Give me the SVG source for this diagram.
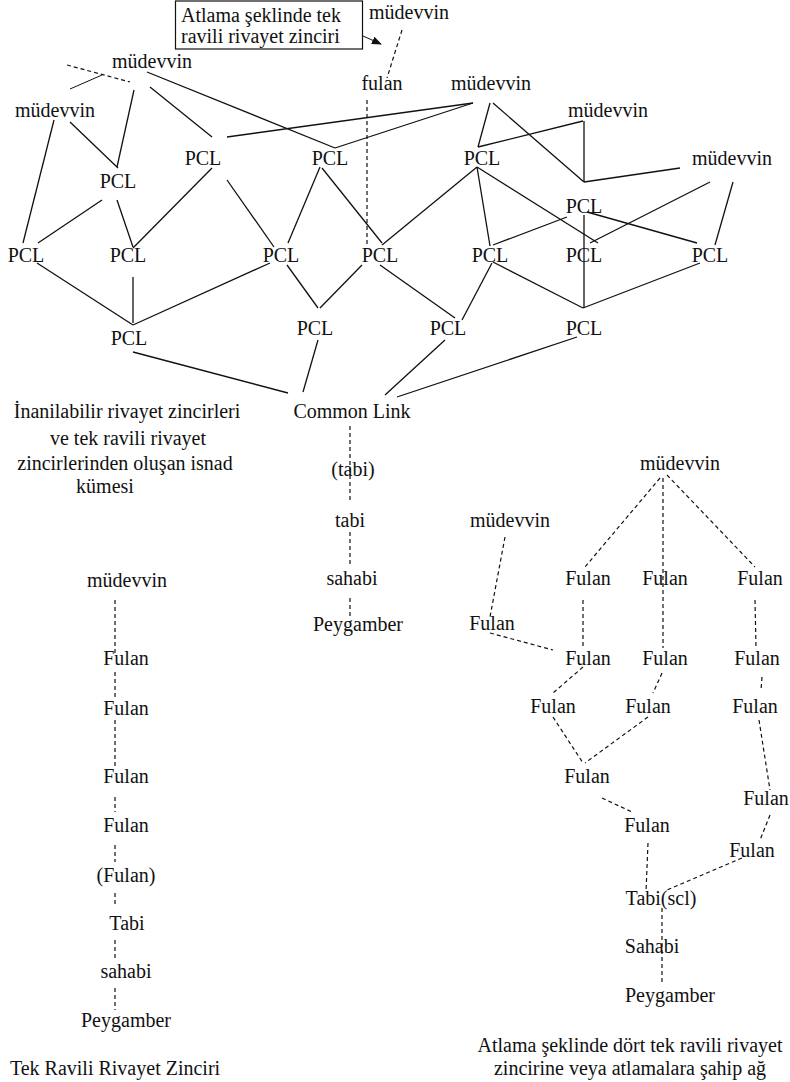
<svg xmlns="http://www.w3.org/2000/svg" width="790" height="1082" viewBox="0 0 790 1082" font-family="Liberation Serif, DejaVu Serif, serif">
<style>
text{font-family:'Liberation Serif','DejaVu Serif',serif;font-size:20px;fill:#111;text-anchor:middle}
.s{text-anchor:start}
.c line{stroke:#111;stroke-width:1.3;fill:none}
.c .d{stroke-dasharray:4 3;stroke-width:1.2}
</style>
<defs>
<marker id="ah" markerWidth="10" markerHeight="8" refX="9" refY="4" orient="auto" markerUnits="userSpaceOnUse">
<path d="M0,0 L10,4 L0,8 Z" fill="#111"/>
</marker>
</defs>
<rect width="790" height="1082" fill="#fff"/>
<g class="c" id="connectors">
<line x1="134" y1="90" x2="117" y2="167"/>
<line x1="54" y1="120" x2="23" y2="243"/>
<line x1="70" y1="122" x2="118" y2="168"/>
<line x1="150" y1="87" x2="212" y2="137"/>
<line x1="147" y1="72" x2="335" y2="148"/>
<line x1="227" y1="137" x2="473" y2="103"/>
<line x1="335" y1="148" x2="473" y2="103"/>
<line x1="102" y1="200" x2="38" y2="243"/>
<line x1="117" y1="200" x2="133" y2="247"/>
<line x1="212" y1="168" x2="133" y2="248"/>
<line x1="227" y1="180" x2="274" y2="247"/>
<line x1="320" y1="167" x2="288" y2="243"/>
<line x1="322" y1="168" x2="382" y2="243"/>
<line x1="490" y1="103" x2="478" y2="147"/>
<line x1="493" y1="103" x2="584" y2="182"/>
<line x1="584" y1="182" x2="680" y2="168"/>
<line x1="584" y1="121" x2="584" y2="182"/>
<line x1="583" y1="121" x2="478" y2="147"/>
<line x1="477" y1="167" x2="382" y2="245"/>
<line x1="477" y1="167" x2="490" y2="246"/>
<line x1="477" y1="167" x2="598" y2="243"/>
<line x1="584" y1="215" x2="584" y2="308"/>
<line x1="567" y1="217" x2="493" y2="245"/>
<line x1="587" y1="212" x2="697" y2="243"/>
<line x1="590" y1="243" x2="710" y2="182"/>
<line x1="733" y1="182" x2="715" y2="245"/>
<line x1="37" y1="263" x2="133" y2="325"/>
<line x1="133" y1="277" x2="133" y2="323"/>
<line x1="270" y1="263" x2="133" y2="325"/>
<line x1="287" y1="265" x2="318" y2="308"/>
<line x1="362" y1="265" x2="320" y2="308"/>
<line x1="380" y1="265" x2="455" y2="318"/>
<line x1="492" y1="263" x2="462" y2="320"/>
<line x1="493" y1="262" x2="583" y2="308"/>
<line x1="700" y1="263" x2="583" y2="308"/>
<line x1="133" y1="352" x2="288" y2="393"/>
<line x1="318" y1="340" x2="303" y2="392"/>
<line x1="445" y1="340" x2="385" y2="395"/>
<line x1="577" y1="337" x2="397" y2="397"/>
<line class="d" x1="67" y1="65" x2="130" y2="82"/>
<line x1="70" y1="89" x2="102" y2="75" style="stroke-width:1"/>
<line x1="363" y1="36" x2="381" y2="44" style="stroke-width:1" marker-end="url(#ah)"/>
<line class="d" x1="402" y1="30" x2="387" y2="78"/>
<line class="d" x1="367" y1="100" x2="367" y2="247"/>
<line class="d" x1="350" y1="426" x2="350" y2="503"/>
<line class="d" x1="350" y1="532" x2="350" y2="567"/>
<line class="d" x1="350" y1="598" x2="350" y2="617"/>
<line class="d" x1="115" y1="600" x2="115" y2="653"/>
<line class="d" x1="115" y1="672" x2="115" y2="697"/>
<line class="d" x1="115" y1="720" x2="115" y2="767"/>
<line class="d" x1="115" y1="797" x2="115" y2="812"/>
<line class="d" x1="115" y1="845" x2="115" y2="862"/>
<line class="d" x1="115" y1="893" x2="115" y2="907"/>
<line class="d" x1="115" y1="940" x2="115" y2="960"/>
<line class="d" x1="115" y1="988" x2="115" y2="1010"/>
<line class="d" x1="660" y1="478" x2="585" y2="567"/>
<line class="d" x1="663" y1="478" x2="663" y2="648"/>
<line class="d" x1="667" y1="475" x2="755" y2="567"/>
<line class="d" x1="505" y1="537" x2="490" y2="617"/>
<line class="d" x1="490" y1="633" x2="553" y2="650"/>
<line class="d" x1="583" y1="600" x2="583" y2="647"/>
<line class="d" x1="755" y1="600" x2="756" y2="647"/>
<line class="d" x1="583" y1="667" x2="553" y2="693"/>
<line class="d" x1="662" y1="673" x2="653" y2="693"/>
<line class="d" x1="762" y1="677" x2="761" y2="690"/>
<line class="d" x1="553" y1="717" x2="583" y2="763"/>
<line class="d" x1="648" y1="717" x2="585" y2="763"/>
<line class="d" x1="759" y1="720" x2="770" y2="790"/>
<line class="d" x1="602" y1="798" x2="632" y2="812"/>
<line class="d" x1="770" y1="815" x2="760" y2="840"/>
<line class="d" x1="648" y1="843" x2="646" y2="892"/>
<line class="d" x1="742" y1="858" x2="667" y2="890"/>
<line class="d" x1="662" y1="908" x2="662" y2="985"/>
</g>
<g id="n-box"><rect x="175.5" y="1" width="187" height="48" fill="none" stroke="#111" stroke-width="1.2"/><text class="s" x="181" y="22">Atlama şeklinde tek</text><text class="s" x="181" y="43">ravili rivayet zinciri</text></g>
<g id="n-mud-top"><text x="409" y="19">müdevvin</text></g>
<g id="n-fulan"><text x="382" y="90">fulan</text></g>
<g id="n-mud1"><text x="152" y="68">müdevvin</text></g>
<g id="n-mud2"><text x="55" y="117">müdevvin</text></g>
<g id="n-mud3"><text x="491" y="90">müdevvin</text></g>
<g id="n-mud4"><text x="608" y="117">müdevvin</text></g>
<g id="n-mud5"><text x="732" y="165">müdevvin</text></g>
<g id="n-p1"><text x="203" y="165">PCL</text></g>
<g id="n-p2"><text x="330" y="165">PCL</text></g>
<g id="n-p3"><text x="482" y="165">PCL</text></g>
<g id="n-p4"><text x="118" y="188">PCL</text></g>
<g id="n-p5"><text x="584" y="213">PCL</text></g>
<g id="n-p6"><text x="26" y="262">PCL</text></g>
<g id="n-p7"><text x="128" y="262">PCL</text></g>
<g id="n-p8"><text x="281" y="262">PCL</text></g>
<g id="n-p9"><text x="380" y="262">PCL</text></g>
<g id="n-p10"><text x="490" y="262">PCL</text></g>
<g id="n-p11"><text x="584" y="262">PCL</text></g>
<g id="n-p12"><text x="710" y="262">PCL</text></g>
<g id="n-p13"><text x="129" y="345">PCL</text></g>
<g id="n-p14"><text x="315" y="335">PCL</text></g>
<g id="n-p15"><text x="448" y="335">PCL</text></g>
<g id="n-p16"><text x="584" y="335">PCL</text></g>
<g id="n-cl"><text x="352" y="418">Common Link</text></g>
<g id="n-caption1"><text x="127" y="418">İnanilabilir rivayet zincirleri</text><text x="128" y="445">ve tek ravili rivayet</text><text x="125" y="470">zincirlerinden oluşan isnad</text><text x="105" y="493">kümesi</text></g>
<g id="n-m-tabi1"><text x="353" y="476">(tabi)</text></g>
<g id="n-m-tabi2"><text x="350" y="527">tabi</text></g>
<g id="n-m-sahabi"><text x="352" y="585">sahabi</text></g>
<g id="n-m-peyg"><text x="358" y="631">Peygamber</text></g>
<g id="n-l-mud"><text x="127" y="587">müdevvin</text></g>
<g id="n-l-f1"><text x="126" y="665">Fulan</text></g>
<g id="n-l-f2"><text x="126" y="715">Fulan</text></g>
<g id="n-l-f3"><text x="126" y="783">Fulan</text></g>
<g id="n-l-f4"><text x="126" y="832">Fulan</text></g>
<g id="n-l-f5"><text x="126" y="882">(Fulan)</text></g>
<g id="n-l-tabi"><text x="127" y="930">Tabi</text></g>
<g id="n-l-sahabi"><text x="126" y="978">sahabi</text></g>
<g id="n-l-peyg"><text x="126" y="1027">Peygamber</text></g>
<g id="n-caption2"><text x="115" y="1075">Tek Ravili Rivayet Zinciri</text></g>
<g id="n-r-mud1"><text x="680" y="470">müdevvin</text></g>
<g id="n-r-mud2"><text x="510" y="527">müdevvin</text></g>
<g id="n-r-f1"><text x="588" y="585">Fulan</text></g>
<g id="n-r-f2"><text x="665" y="585">Fulan</text></g>
<g id="n-r-f3"><text x="760" y="585">Fulan</text></g>
<g id="n-r-f4"><text x="492" y="630">Fulan</text></g>
<g id="n-r-f5"><text x="588" y="665">Fulan</text></g>
<g id="n-r-f6"><text x="665" y="665">Fulan</text></g>
<g id="n-r-f7"><text x="757" y="665">Fulan</text></g>
<g id="n-r-f8"><text x="553" y="713">Fulan</text></g>
<g id="n-r-f9"><text x="648" y="713">Fulan</text></g>
<g id="n-r-f10"><text x="755" y="713">Fulan</text></g>
<g id="n-r-f11"><text x="587" y="783">Fulan</text></g>
<g id="n-r-f12"><text x="766" y="805">Fulan</text></g>
<g id="n-r-f13"><text x="647" y="832">Fulan</text></g>
<g id="n-r-f14"><text x="752" y="857">Fulan</text></g>
<g id="n-r-tabi"><text x="661" y="905">Tabi(scl)</text></g>
<g id="n-r-sahabi"><text x="652" y="953">Sahabi</text></g>
<g id="n-r-peyg"><text x="670" y="1002">Peygamber</text></g>
<g id="n-caption3"><text x="630" y="1052">Atlama şeklinde dört tek ravili rivayet</text><text x="630" y="1075">zincirine veya atlamalara şahip ağ</text></g>
</svg>
